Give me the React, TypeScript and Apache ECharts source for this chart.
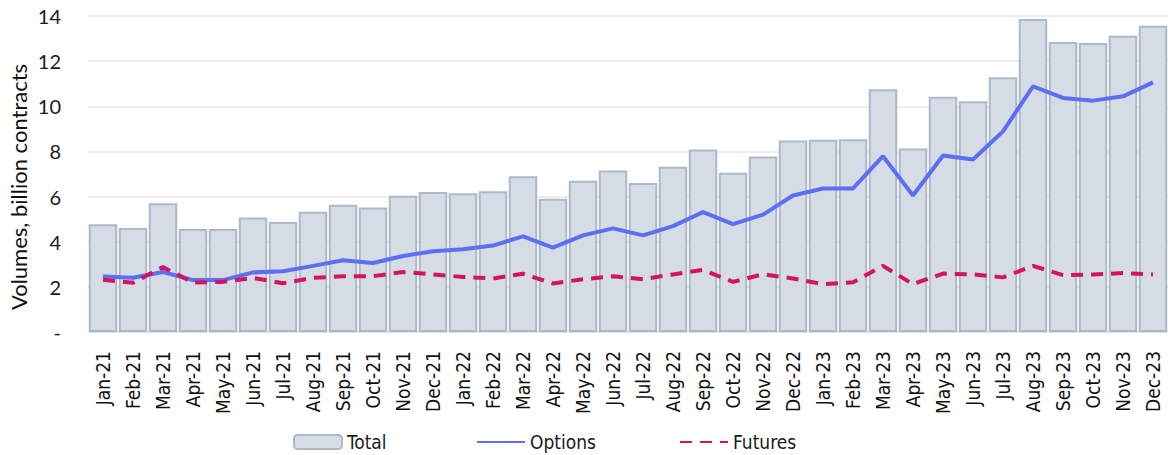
import React, { useEffect, useRef } from "react";
import * as echarts from "echarts";

const months = [
  "Jan-21", "Feb-21", "Mar-21", "Apr-21", "May-21", "Jun-21", "Jul-21", "Aug-21", "Sep-21", "Oct-21", "Nov-21", "Dec-21",
  "Jan-22", "Feb-22", "Mar-22", "Apr-22", "May-22", "Jun-22", "Jul-22", "Aug-22", "Sep-22", "Oct-22", "Nov-22", "Dec-22",
  "Jan-23", "Feb-23", "Mar-23", "Apr-23", "May-23", "Jun-23", "Jul-23", "Aug-23", "Sep-23", "Oct-23", "Nov-23", "Dec-23",
];

const totalValues = [
  4.77, 4.61, 5.7, 4.56, 4.56, 5.07, 4.87, 5.33, 5.64, 5.52, 6.04, 6.2,
  6.15, 6.24, 6.9, 5.9, 6.7, 7.16, 6.6, 7.32, 8.08, 7.05, 7.77, 8.48,
  8.52, 8.54, 10.76, 8.13, 10.42, 10.22, 11.29, 13.87, 12.85, 12.8, 13.12, 13.57,
];

const optionsValues = [
  2.46, 2.4, 2.66, 2.3, 2.3, 2.64, 2.69, 2.93, 3.18, 3.06, 3.37, 3.58,
  3.67, 3.83, 4.24, 3.74, 4.28, 4.59, 4.28, 4.69, 5.31, 4.78, 5.2, 6.05,
  6.36, 6.36, 7.79, 6.05, 7.82, 7.64, 8.89, 10.88, 10.37, 10.25, 10.44, 11.06,
];

const futuresValues = [
  2.31, 2.18, 2.88, 2.19, 2.22, 2.4, 2.16, 2.4, 2.47, 2.47, 2.66, 2.55,
  2.44, 2.37, 2.58, 2.15, 2.34, 2.47, 2.34, 2.55, 2.75, 2.22, 2.56, 2.37,
  2.12, 2.2, 2.93, 2.12, 2.59, 2.55, 2.42, 2.93, 2.52, 2.55, 2.61, 2.55,
];

const yTicks = { min: 0, max: 14, interval: 2 };
const axisTitle = "Volumes, billion contracts";

const NARROW = "'DejaVu Sans Condensed', 'Liberation Sans', sans-serif";
const LATO = "Lato, 'Open Sans', sans-serif";

export default function App() {
  const ref = useRef<HTMLDivElement>(null);

  useEffect(() => {
    if (!ref.current) return;
    const chart = echarts.init(ref.current, null, { renderer: "svg" });
    const legendText = { fontFamily: NARROW, fontSize: 19, lineHeight: 20, color: "#1a1a1a" };
    const legendBase = {
      top: 432,
      padding: 0,
      itemGap: 0,
      itemWidth: 48,
      itemHeight: 14,
      itemStyle: { opacity: 0 },
      textStyle: legendText,
      selectedMode: false,
    };
    chart.setOption({
      animation: false,
      backgroundColor: "#ffffff",
      grid: { left: 88, right: 0, top: 16, bottom: 123, containLabel: false },
      graphic: [
        {
          type: "text",
          x: 18,
          y: 187,
          rotation: Math.PI / 2,
          style: {
            text: axisTitle,
            fontFamily: LATO,
            fontSize: 22,
            fill: "#111111",
            textAlign: "center",
            textVerticalAlign: "middle",
          },
        },
      ],
      legend: [
        {
          ...legendBase,
          data: ["Total"],
          left: 293,
          itemStyle: {},
        },
        { ...legendBase, data: ["Options"], left: 476 },
        { ...legendBase, data: ["Futures"], left: 679 },
      ],
      xAxis: {
        type: "category",
        data: months,
        axisTick: { show: false },
        axisLine: { show: true, lineStyle: { color: "#e6dfe2", width: 1 } },
        axisLabel: {
          rotate: 90,
          interval: 0,
          margin: 19,
          fontFamily: NARROW,
          fontSize: 19,
          color: "#111111",
        },
      },
      yAxis: {
        type: "value",
        min: yTicks.min,
        max: yTicks.max,
        interval: yTicks.interval,
        axisLine: { show: false },
        axisTick: { show: false },
        splitLine: { lineStyle: { color: "#eee5e9", width: 1.5 } },
        axisLabel: {
          margin: 27,
          fontFamily: LATO,
          fontSize: 20,
          color: "#1a1a1a",
          formatter: (v: number) => (v === 0 ? "-" : String(v)),
        },
      },
      series: [
        {
          name: "Total",
          type: "bar",
          data: totalValues,
          barCategoryGap: "5%",
          itemStyle: { color: "#d6dce5", borderColor: "#adb9ca", borderWidth: 2 },
        },
        {
          name: "Options",
          type: "line",
          data: optionsValues,
          symbol: "none",
          lineStyle: { color: "#5b6ff0", width: 4 },
          itemStyle: { color: "#5b6ff0" },
        },
        {
          name: "Futures",
          type: "line",
          data: futuresValues,
          symbol: "none",
          lineStyle: { color: "#d5145f", width: 4, type: [12, 8] },
          itemStyle: { color: "#d5145f" },
        },
      ],
    });
    return () => chart.dispose();
  }, []);

  return (
    <div
      ref={ref}
      style={{ position: "fixed", left: 0, top: 0, width: 1168, height: 455 }}
    />
  );
}
